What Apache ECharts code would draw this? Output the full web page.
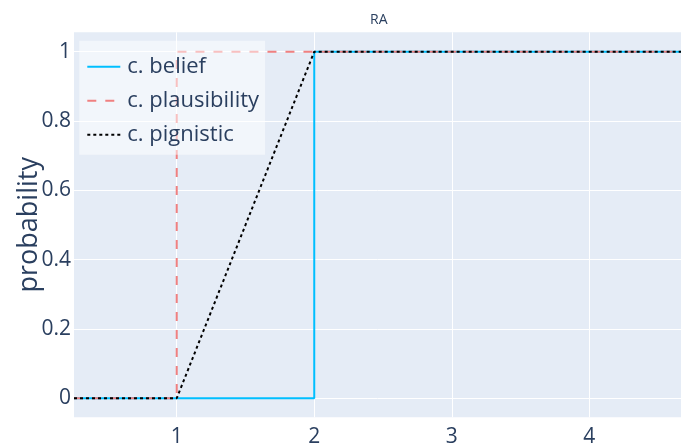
<!DOCTYPE html>
<html>
<head>
<meta charset="utf-8">
<script src="https://cdn.jsdelivr.net/npm/echarts@6/dist/echarts.min.js"></script>
<style>
  html, body { margin: 0; padding: 0; background: #fff; }
  #chart { width: 681px; height: 447px; }
</style>
</head>
<body>
<div id="chart"></div>
<script>
// Cumulative belief, plausibility and pignistic probability for RA
const xBelief = [0.253, 2, 2, 4.667];
const yBelief = [0, 0, 1, 1];
const xPlausibility = [0.253, 1, 1, 4.667];
const yPlausibility = [0, 0, 1, 1];
const xPignistic = [0.253, 1, 2, 4.667];
const yPignistic = [0, 0, 1, 1];

const xTicks = [1, 2, 3, 4];
const yTicks = [0, 0.2, 0.4, 0.6, 0.8, 1];

const seriesNames = ['c. belief', 'c. plausibility', 'c. pignistic'];

const pairs = (xs, ys) => xs.map((x, i) => [x, ys[i]]);

const textColor = '#2a3f5f';
const font = '"Open Sans", "DejaVu Sans", sans-serif';

const chart = echarts.init(document.getElementById('chart'), null, { renderer: 'canvas' });

chart.setOption({
  animation: false,
  backgroundColor: '#ffffff',
  title: {
    text: 'RA',
    left: 370,
    top: 13,
    padding: 0,
    textStyle: { fontFamily: font, fontSize: 14, fontWeight: 'normal', color: textColor }
  },
  grid: {
    left: 74,
    right: 0,
    top: 32.3,
    bottom: 29.7,
    show: true,
    backgroundColor: '#E5ECF6',
    borderWidth: 0,
    containLabel: false,
    outerBoundsMode: 'none'
  },
  legend: {
    orient: 'vertical',
    left: 79.3,
    top: 40.7,
    padding: [15, 6, 9, 7],
    itemWidth: 33,
    itemHeight: 14,
    itemGap: 12,
    backgroundColor: 'rgba(255,255,255,0.5)',
    z: 10,
    data: seriesNames,
    itemStyle: { opacity: 0 },
    textStyle: { fontFamily: font, fontSize: 22, color: textColor, padding: [0, 0, 0, 2] }
  },
  xAxis: {
    type: 'value',
    min: 0.253,
    max: 4.667,
    axisLine: { show: false },
    axisTick: { show: false, customValues: xTicks },
    axisLabel: {
      customValues: xTicks,
      margin: 9,
      fontFamily: font,
      fontSize: 21,
      color: textColor
    },
    splitLine: { show: true, lineStyle: { color: '#ffffff', width: 1 } }
  },
  yAxis: {
    type: 'value',
    min: -0.055,
    max: 1.056,
    name: 'probability',
    nameLocation: 'middle',
    nameGap: 31,
    nameMoveOverlap: false,
    nameRotate: 90,
    nameTextStyle: { fontFamily: font, fontSize: 27, color: textColor },
    axisLine: { show: false },
    axisTick: { show: false, customValues: yTicks },
    axisLabel: {
      customValues: yTicks,
      margin: 3,
      fontFamily: font,
      fontSize: 21,
      color: textColor
    },
    splitLine: { show: true, lineStyle: { color: '#ffffff', width: 1 } }
  },
  series: [
    {
      name: seriesNames[0],
      type: 'line',
      data: pairs(xBelief, yBelief),
      symbol: 'none',
      lineStyle: { color: '#00BFFF', width: 2 },
      itemStyle: { color: '#00BFFF' },
      z: 3
    },
    {
      name: seriesNames[1],
      type: 'line',
      data: pairs(xPlausibility, yPlausibility),
      symbol: 'none',
      lineStyle: { color: '#F08080', width: 2, type: [9, 9] },
      itemStyle: { color: '#F08080' },
      z: 3
    },
    {
      name: seriesNames[2],
      type: 'line',
      data: pairs(xPignistic, yPignistic),
      symbol: 'none',
      lineStyle: { color: '#000000', width: 2, type: [3, 3] },
      itemStyle: { color: '#000000' },
      z: 3
    }
  ]
});
</script>
</body>
</html>
